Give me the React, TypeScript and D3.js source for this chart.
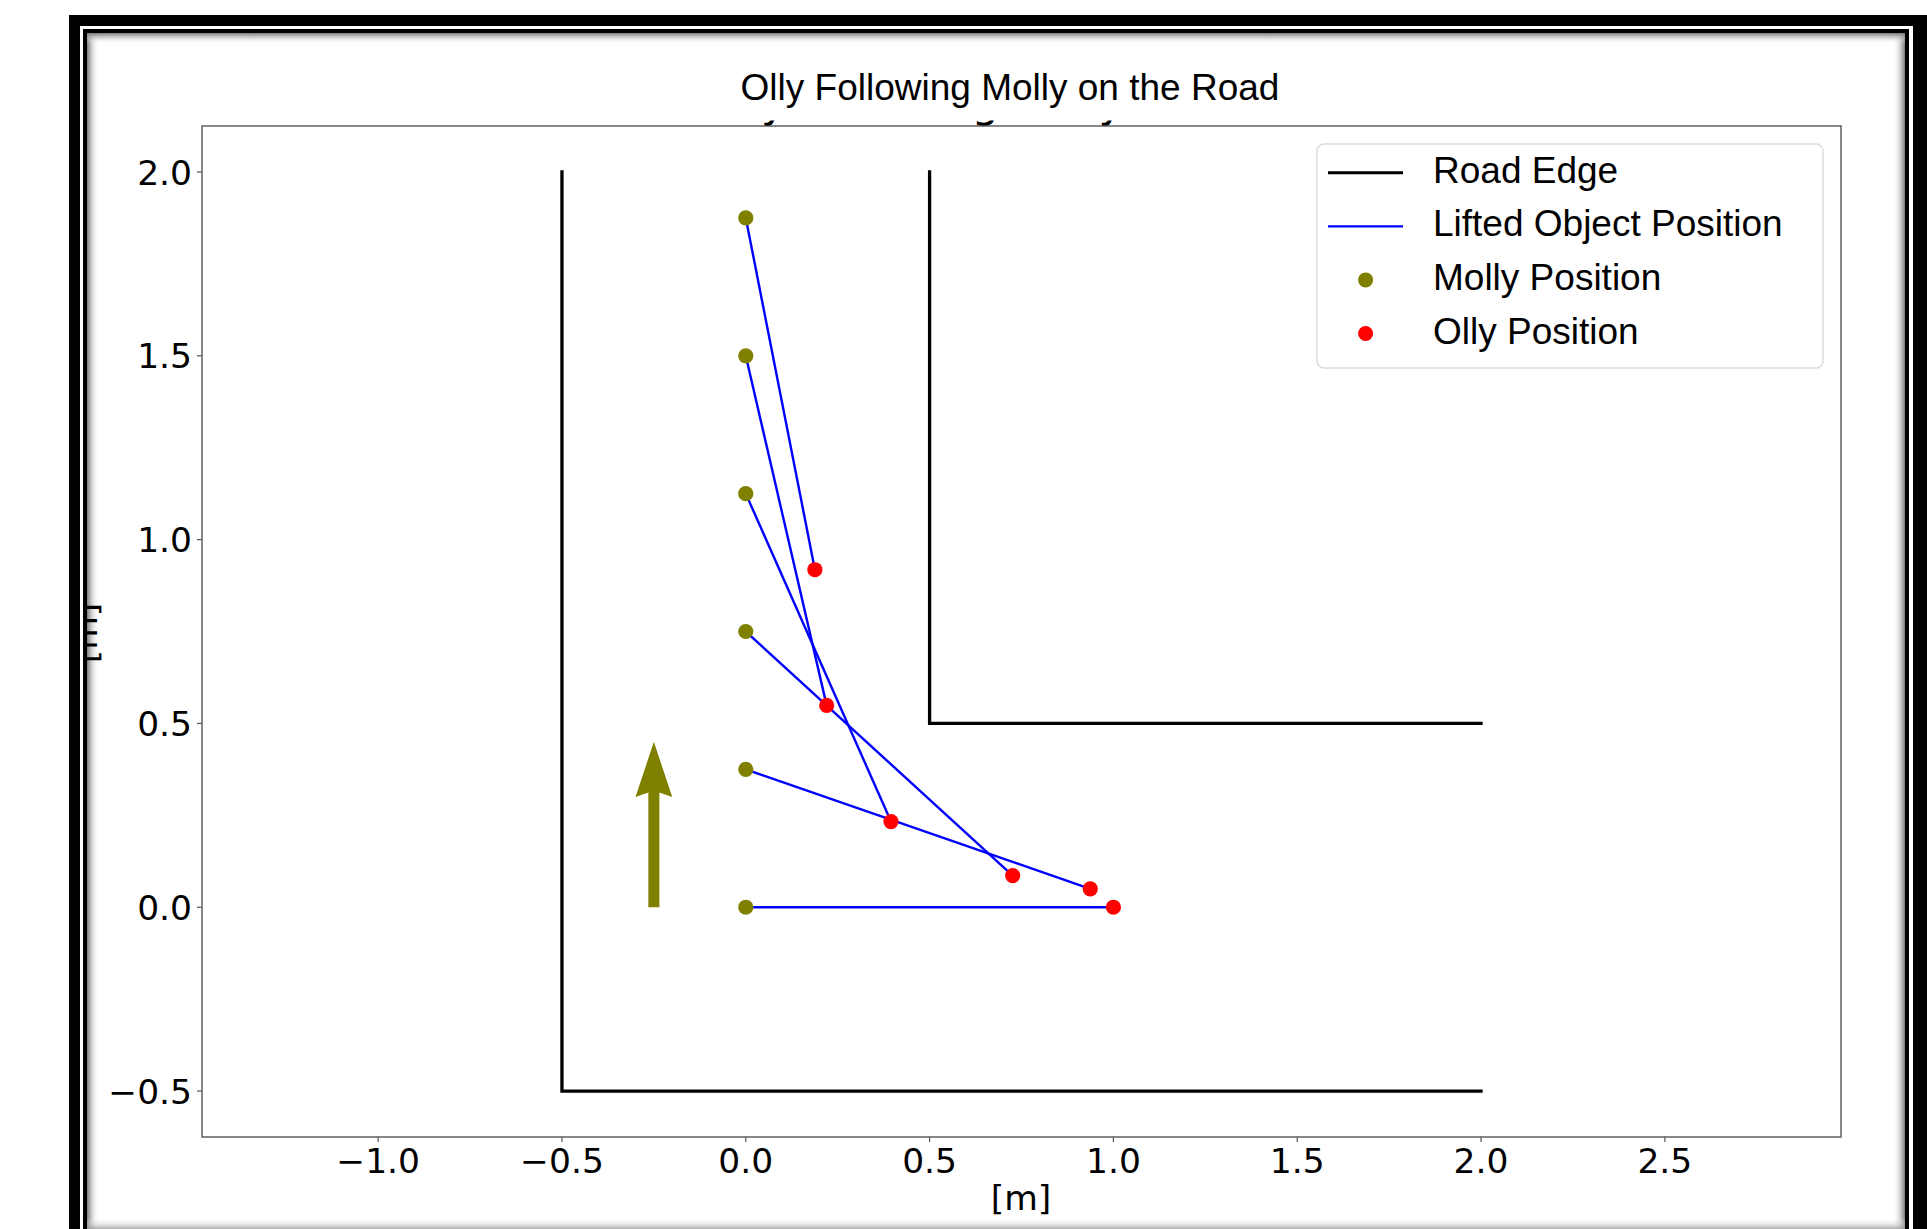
import React from 'react';
import * as d3 from 'd3';

// chart values
const mollyX = [0, 0, 0, 0, 0, 0];
const mollyY = [0, 0.375, 0.75, 1.125, 1.5, 1.875];
const ollyX = [1.0, 0.937, 0.726, 0.395, 0.22, 0.188];
const ollyY = [0, 0.05, 0.086, 0.233, 0.549, 0.918];

const leftEdgeX = [-0.5, -0.5, 2.0];
const leftEdgeY = [2.0, -0.5, -0.5];
const rightEdgeX = [0.5, 0.5, 2.0];
const rightEdgeY = [2.0, 0.5, 0.5];

// plt.arrow(-0.25, 0, 0, 0.3, width=.03, head_width=.1, head_length=.15)
const arrowX = -0.25;
const arrowY = 0;
const arrowDy = 0.3;
const arrowWidth = 0.03;
const headWidth = 0.1;
const headLength = 0.15;

const xTicks = [-1.0, -0.5, 0.0, 0.5, 1.0, 1.5, 2.0, 2.5];
const yTicks = [-0.5, 0.0, 0.5, 1.0, 1.5, 2.0];
const legendLabels = ['Road Edge', 'Lifted Object Position', 'Molly Position', 'Olly Position'];
const title = 'Olly Following Molly on the Road';
const axisLabel = '[m]';

const W = 1927, H = 1229;
const plot = { left: 202, right: 1841, top: 126, bottom: 1137 };
const ARIAL = '"Liberation Sans", Arial, sans-serif';
const DEJAVU = '"DejaVu Sans", sans-serif';
const OLIVE = '#808000';

// band between two rects (even-odd)
function band(o: number[], i: number[]) {
  const r = (a: number[]) => `M${a[0]},${a[1]}H${a[2]}V${a[3]}H${a[0]}Z`;
  return r(o) + r(i);
}

export default function App() {
  // equal aspect like ax.axis('equal'), y limits with 5% margins
  const yDom = [-0.625, 2.125];
  const k = (plot.bottom - plot.top) / (yDom[1] - yDom[0]);
  const xHalf = (plot.right - plot.left) / (2 * k);
  const xMid = 0.75;
  const x = d3.scaleLinear().domain([xMid - xHalf, xMid + xHalf]).range([plot.left, plot.right]);
  const y = d3.scaleLinear().domain(yDom).range([plot.bottom, plot.top]);
  const fmt = d3.format('.1f');

  const line = d3.line<number>().x((_, i) => 0).y(() => 0);
  const edgePath = (xs: number[], ys: number[]) =>
    d3.line<number>().x(d => x(xs[d])).y(d => y(ys[d]))(xs.map((_, i) => i)) || '';

  const ax = arrowX, hw = headWidth / 2, w = arrowWidth / 2, top = arrowY + arrowDy;
  const arrowPts: [number, number][] = [
    [ax - w, arrowY], [ax - w, top + 0.012], [ax - hw, top], [ax, top + headLength],
    [ax + hw, top], [ax + w, top + 0.012], [ax + w, arrowY],
  ];
  const arrowPath = d3.line().x(d => x(d[0])).y(d => y(d[1]))(arrowPts) + 'Z';

  const fs = 34.5;
  const lg = { x: 1317, y: 144, w: 506, h: 224, row0: 172.7, step: 53.6 };

  return (
    <div style={{ position: 'absolute', left: 0, top: 0 }}>
      <svg width={W} height={H} style={{ display: 'block' }}>
        <defs>
          <linearGradient id="shL" x1="0" x2="1" y1="0" y2="0">
            <stop offset="0" stopColor="#7a7a7a" stopOpacity="1" />
            <stop offset="1" stopColor="#ffffff" stopOpacity="0" />
          </linearGradient>
          <linearGradient id="shR" x1="1" x2="0" y1="0" y2="0">
            <stop offset="0" stopColor="#7a7a7a" stopOpacity="1" />
            <stop offset="1" stopColor="#ffffff" stopOpacity="0" />
          </linearGradient>
          <linearGradient id="shT" x1="0" x2="0" y1="0" y2="1">
            <stop offset="0" stopColor="#7a7a7a" stopOpacity="1" />
            <stop offset="1" stopColor="#ffffff" stopOpacity="0" />
          </linearGradient>
          <linearGradient id="shB" x1="0" x2="0" y1="1" y2="0">
            <stop offset="0" stopColor="#7a7a7a" stopOpacity="1" />
            <stop offset="1" stopColor="#ffffff" stopOpacity="0" />
          </linearGradient>
          <clipPath id="ghost">
            <rect x={600} y={120.5} width={700} height={6.5} />
          </clipPath>
        </defs>
        <rect width={W} height={H} fill="#fff" />

        {/* inset shadow of the frame */}
        <rect x={87} y={33} width={12} height={1200} fill="url(#shL)" />
        <rect x={1893} y={33} width={12} height={1200} fill="url(#shR)" />
        <rect x={87} y={33} width={1818} height={11} fill="url(#shT)" />
        <rect x={87} y={1218} width={1818} height={14} fill="url(#shB)" />

        {/* leftover descenders of a covered title */}
        <text x={704} y={116.5} fontFamily={DEJAVU} fontSize={42.5} clipPath="url(#ghost)">{title}</text>

        <text x={1010} y={99.5} textAnchor="middle" fontFamily={ARIAL} fontSize={37}>{title}</text>

        {/* axes */}
        <rect x={plot.left} y={plot.top} width={plot.right - plot.left} height={plot.bottom - plot.top}
          fill="none" stroke="#555" strokeWidth={1.4} />
        {xTicks.map(t => (
          <g key={'x' + t}>
            <line x1={x(t)} x2={x(t)} y1={plot.bottom} y2={plot.bottom + 5} stroke="#555" strokeWidth={1.2} />
            <text x={x(t)} y={1173} textAnchor="middle" fontFamily={DEJAVU} fontSize={fs}>{fmt(t)}</text>
          </g>
        ))}
        {yTicks.map(t => (
          <g key={'y' + t}>
            <line x1={plot.left - 5} x2={plot.left} y1={y(t)} y2={y(t)} stroke="#555" strokeWidth={1.2} />
            <text x={192} y={y(t) + 0.365 * fs} textAnchor="end" fontFamily={DEJAVU} fontSize={fs}>{fmt(t)}</text>
          </g>
        ))}
        <text x={1021} y={1210} textAnchor="middle" fontFamily={DEJAVU} fontSize={fs}>{axisLabel}</text>
        <text transform="translate(97,633) rotate(-90)" textAnchor="middle" fontFamily={DEJAVU} fontSize={fs}>{axisLabel}</text>

        {/* road edges */}
        <path d={edgePath(leftEdgeX, leftEdgeY)} fill="none" stroke="#000" strokeWidth={3.3} strokeLinecap="square" strokeLinejoin="miter" />
        <path d={edgePath(rightEdgeX, rightEdgeY)} fill="none" stroke="#000" strokeWidth={3.3} strokeLinecap="square" strokeLinejoin="miter" />

        {/* lifted object */}
        {mollyX.map((mx, i) => (
          <line key={'l' + i} x1={x(mx)} y1={y(mollyY[i])} x2={x(ollyX[i])} y2={y(ollyY[i])} stroke="#0000ff" strokeWidth={2.4} />
        ))}
        {mollyX.map((mx, i) => (
          <circle key={'m' + i} cx={x(mx)} cy={y(mollyY[i])} r={7.6} fill={OLIVE} />
        ))}
        {ollyX.map((ox, i) => (
          <circle key={'o' + i} cx={x(ox)} cy={y(ollyY[i])} r={7.6} fill="#ff0000" />
        ))}

        <path d={arrowPath} fill={OLIVE} />

        {/* legend */}
        <rect x={lg.x} y={lg.y} width={lg.w} height={lg.h} rx={7} fill="#fff" fillOpacity={0.8} stroke="#dcdcdc" strokeWidth={1.5} />
        {legendLabels.map((lab, i) => {
          const cy = lg.row0 + i * lg.step;
          return (
            <g key={lab}>
              {i === 0 && <line x1={1328} x2={1403} y1={cy} y2={cy} stroke="#000" strokeWidth={3} />}
              {i === 1 && <line x1={1328} x2={1403} y1={cy} y2={cy} stroke="#0000ff" strokeWidth={2.2} />}
              {i === 2 && <circle cx={1365.6} cy={cy} r={7.5} fill={OLIVE} />}
              {i === 3 && <circle cx={1365.6} cy={cy} r={7.5} fill="#ff0000" />}
              <text x={1433} y={cy + 10} fontFamily={ARIAL} fontSize={37}>{lab}</text>
            </g>
          );
        })}

        {/* screenshot frame */}
        <path d={band([69, 15, 1940, 1300], [80, 26, 1913, 1290])} fill="#000" fillRule="evenodd" />
        <path d={band([80, 26, 1913, 1290], [83, 29, 1909, 1280])} fill="#fff" fillRule="evenodd" />
        <path d={band([83, 29, 1909, 1280], [87, 33, 1905, 1232])} fill="#000" fillRule="evenodd" />
      </svg>
    </div>
  );
}
